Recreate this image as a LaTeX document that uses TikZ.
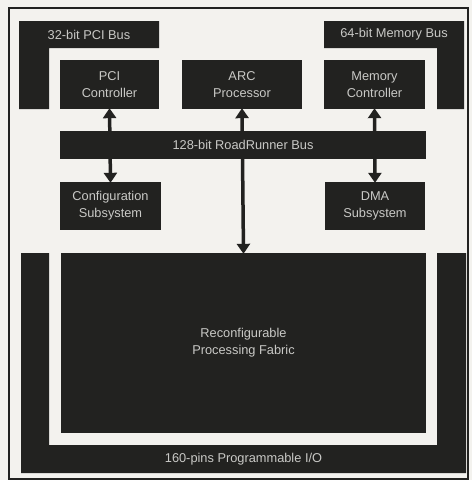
\documentclass[tikz,border=0pt]{standalone}
\usepackage{fontspec}
\setmainfont{Liberation Sans}
\usetikzlibrary{arrows.meta}
\definecolor{bg}{HTML}{F3F2EE}
\definecolor{ink}{HTML}{222220}
\definecolor{txt}{HTML}{C9C9C6}
\tikzset{
  blk/.style={fill=ink, draw=none, text=txt, align=center, inner sep=0pt,
    font=\fontsize{12.8}{17}\selectfont},
  lbl/.style={text=txt, inner sep=0pt, font=\fontsize{12.8}{17}\selectfont},
  conn/.style={ink, line width=3.5pt, {Triangle[width=13pt,length=10pt]}-{Triangle[width=13pt,length=10pt]}, shorten <=-1pt, shorten >=-1pt},
}
\begin{document}
\begin{tikzpicture}[x=1pt,y=-1pt]
\useasboundingbox (0,0) rectangle (472,480);
\fill[bg] (0,0) rectangle (472,480);
\draw[ink, line width=2pt] (9,8) rectangle (468,479);
% L-shaped buses
\fill[ink] (19,21) -- (159,21) -- (159,48) -- (49,48) -- (49,109) -- (19,109) -- cycle;
\fill[ink] (464,21) -- (324,21) -- (324,48) -- (437,48) -- (437,109) -- (464,109) -- cycle;
\node[lbl] (pcibus) at (89,34.5) {32-bit PCI Bus};
\node[lbl] (membus) at (394,34.5) {64-bit Memory Bus};
% U-shaped I/O
\fill[ink] (21,253) -- (49,253) -- (49,445) -- (437,445) -- (437,253) -- (466,253) -- (466,473) -- (21,473) -- cycle;
\node[lbl] (io) at (243.5,459) {160-pins Programmable I/O};
% blocks
\node[blk, minimum width=99pt, minimum height=49pt] (pci) at (109.5,84.5) {PCI\\Controller};
\node[blk, minimum width=120pt, minimum height=49pt] (arc) at (242,84.5) {ARC\\Processor};
\node[blk, minimum width=101pt, minimum height=49pt] (mem) at (374.5,84.5) {Memory\\Controller};
\node[blk, minimum width=101pt, minimum height=48pt] (cfg) at (110.5,206) {Configuration\\Subsystem};
\node[blk, minimum width=100pt, minimum height=48pt] (dma) at (375,206) {DMA\\Subsystem};
\node[blk, minimum width=365pt, minimum height=180pt] (fab) at (243.5,343) {Reconfigurable\\Processing Fabric};
% connectors
\draw[conn] (pci.south) -- (cfg.north);
\draw[conn] (mem.south) -- (dma.north);
\draw[conn] (arc.south) -- (fab.north);
% bus on top
\node[blk, minimum width=366pt, minimum height=28pt] (rr) at (243,145) {128-bit RoadRunner Bus};
\end{tikzpicture}
\end{document}
